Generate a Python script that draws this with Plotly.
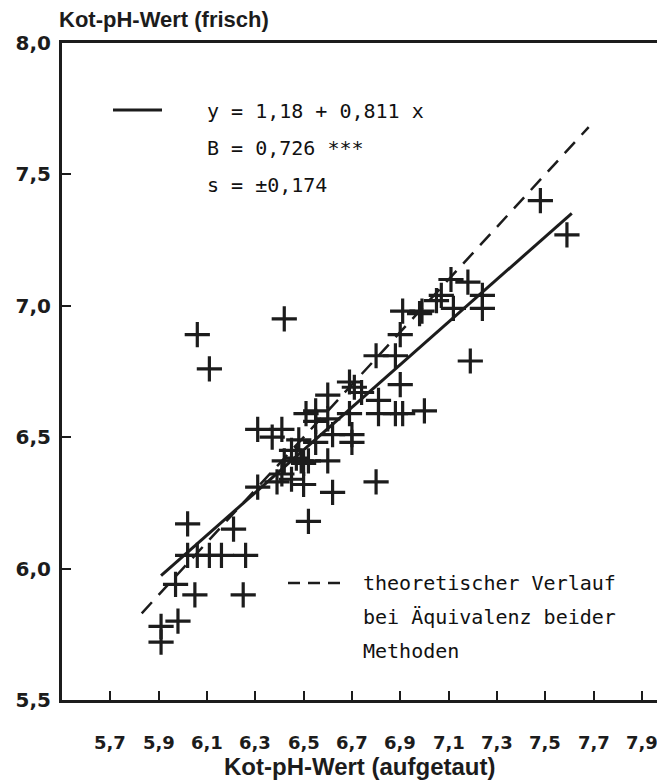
import plotly.graph_objects as go

# ---- data ----
ph_aufgetaut = [
    5.91, 5.91, 5.98, 5.97, 6.05, 6.25,
    6.02, 6.06, 6.11, 6.16, 6.26,
    6.02, 6.21, 6.52,
    6.06, 6.11, 6.42,
    6.31, 6.39, 6.45, 6.50, 6.62, 6.80,
    6.41, 6.42, 6.49, 6.47, 6.52, 6.50, 6.60,
    6.45,
    6.31, 6.37, 6.41, 6.48, 6.55, 6.62, 6.70, 6.70,
    6.51, 6.55, 6.60, 6.55, 6.69, 6.81, 6.88, 6.91, 7.00,
    6.60, 6.69, 6.71, 6.74, 6.81, 6.90,
    6.80, 6.88, 7.19, 6.90,
    6.91, 6.99, 6.98, 7.05, 7.07, 7.12, 7.24, 7.24,
    7.11, 7.18,
    7.48, 7.59,
]
ph_frisch = [
    5.72, 5.78, 5.80, 5.94, 5.90, 5.90,
    6.05, 6.05, 6.05, 6.05, 6.05,
    6.17, 6.15, 6.18,
    6.89, 6.76, 6.95,
    6.31, 6.33, 6.34, 6.32, 6.29, 6.33,
    6.36, 6.41, 6.41, 6.42, 6.41, 6.40, 6.41,
    6.45,
    6.53, 6.50, 6.53, 6.49, 6.48, 6.51, 6.51, 6.48,
    6.59, 6.60, 6.57, 6.56, 6.59, 6.59, 6.59, 6.59, 6.60,
    6.66, 6.71, 6.69, 6.67, 6.64, 6.70,
    6.81, 6.81, 6.79, 6.89,
    6.98, 6.98, 6.97, 7.02, 7.04, 6.99, 7.04, 6.99,
    7.10, 7.09,
    7.40, 7.27,
]

intercept = 1.18
slope = 0.811
fit_x = [5.91, 7.61]
equiv_x = [5.83, 7.68]

x_ticks = [5.7, 5.9, 6.1, 6.3, 6.5, 6.7, 6.9, 7.1, 7.3, 7.5, 7.7, 7.9]
x_ticklabels = ["5,7", "5,9", "6,1", "6,3", "6,5", "6,7", "6,9", "7,1", "7,3", "7,5", "7,7", "7,9"]
y_ticks = [5.5, 6.0, 6.5, 7.0, 7.5, 8.0]
y_ticklabels = ["5,5", "6,0", "6,5", "7,0", "7,5", "8,0"]

INK = "#1c1c1c"

fig = go.Figure()

fig.add_trace(go.Scatter(
    x=equiv_x, y=equiv_x, mode="lines",
    line=dict(color=INK, width=2.5, dash="15px,10px"),
    showlegend=False, hoverinfo="skip"))

fig.add_trace(go.Scatter(
    x=fit_x, y=[intercept + slope * v for v in fit_x], mode="lines",
    line=dict(color=INK, width=3),
    showlegend=False, hoverinfo="skip"))

fig.add_trace(go.Scatter(
    x=ph_aufgetaut, y=ph_frisch, mode="markers",
    marker=dict(symbol="cross-thin", size=18, line=dict(color=INK, width=3.2)),
    showlegend=False))

DX, DY = -3, -5
L, R, T, B = 57 + DX, 658, 40 + DY, 697 + DY
W, H = 665, 782


def px(xp):
    return (xp + DX - L) / (R - L)


def py(yp):
    return (B - (yp + DY)) / (B - T)


mono = dict(family="DejaVu Sans Mono", size=20, color="#111111")
ann = []
for txt, yy in [("y = 1,18 + 0,811 x", 108), ("B = 0,726 ***", 145), ("s = ±0,174", 182)]:
    ann.append(dict(text=txt, x=px(200), y=py(yy), xref="paper", yref="paper",
                    xanchor="left", yanchor="middle", showarrow=False, font=mono))
for txt, yy in [("theoretischer Verlauf", 580), ("bei Äquivalenz beider", 614), ("Methoden", 648)]:
    ann.append(dict(text=txt, x=px(356), y=py(yy), xref="paper", yref="paper",
                    xanchor="left", yanchor="middle", showarrow=False, font=mono))

ann.append(dict(text="<b>Kot-pH-Wert (frisch)</b>", x=px(52), y=py(16), xref="paper", yref="paper",
                xanchor="left", yanchor="middle", showarrow=False,
                font=dict(family="Liberation Sans", size=22, color=INK)))
ann.append(dict(text="<b>Kot-pH-Wert (aufgetaut)</b>", x=px(355), y=py(763), xref="paper", yref="paper",
                xanchor="center", yanchor="middle", showarrow=False,
                font=dict(family="Liberation Sans", size=24, color=INK)))

x_tick_font = dict(family="DejaVu Sans", size=18, color=INK)
y_tick_font = dict(family="DejaVu Sans", size=20, color=INK)

# x tick labels drawn below the axis
for v, t in zip(x_ticks, x_ticklabels):
    ann.append(dict(text="<b>" + t + "</b>", x=v, y=py(739), xref="x", yref="paper",
                    xanchor="center", yanchor="middle", showarrow=False, font=x_tick_font))

shapes = [
    dict(type="line", xref="paper", yref="paper", x0=px(108), x1=px(157), y0=py(107), y1=py(107),
         line=dict(color=INK, width=3)),
    dict(type="line", xref="paper", yref="paper", x0=px(283), x1=px(340), y0=py(580), y1=py(580),
         line=dict(color=INK, width=2.5, dash="12px,8px")),
]

fig.update_layout(
    width=W, height=H,
    margin=dict(l=L, r=W - R, t=T, b=H - B, autoexpand=False),
    paper_bgcolor="white", plot_bgcolor="white",
    annotations=ann, shapes=shapes,
    xaxis=dict(range=[5.5, 8.0], tickvals=x_ticks, ticktext=[""] * len(x_ticks),
               ticks="inside", ticklen=9, tickwidth=2, tickcolor=INK,
               showline=True, linewidth=3, linecolor=INK, mirror=True,
               showgrid=False, zeroline=False, automargin=False),
    yaxis=dict(range=[5.5, 8.0], tickvals=y_ticks,
               ticktext=["<b>" + t + "</b>" for t in y_ticklabels],
               ticks="inside", ticklen=9, tickwidth=2, tickcolor=INK,
               showline=True, linewidth=3, linecolor=INK, mirror=True,
               showgrid=False, zeroline=False, tickfont=y_tick_font, ticklabelstandoff=4,
               automargin=False),
)

fig.write_html("out.html")
